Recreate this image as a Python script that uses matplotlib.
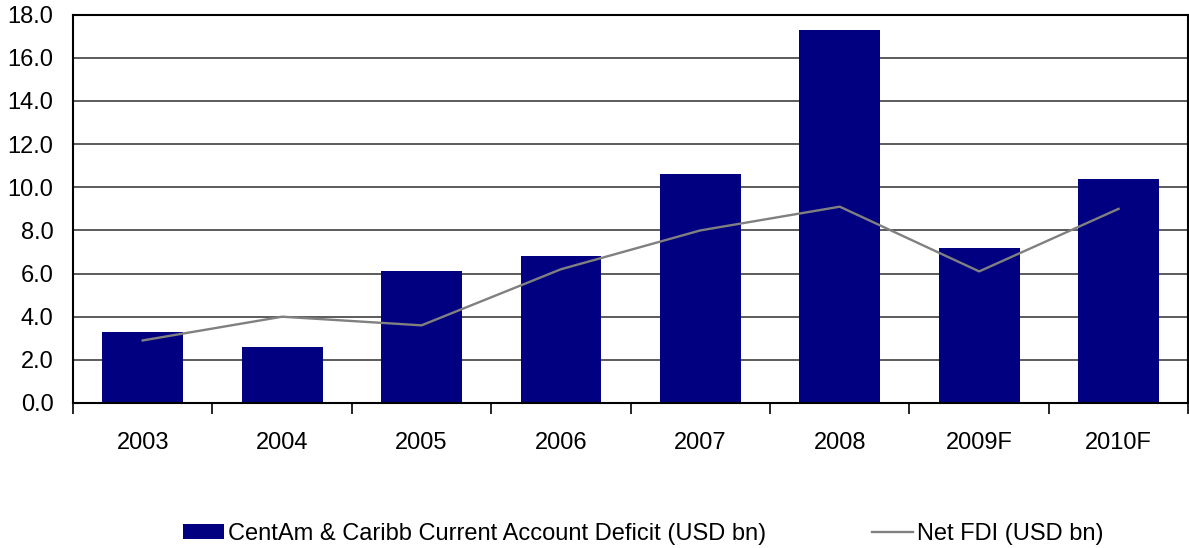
import numpy as np
import matplotlib.pyplot as plt

plt.rcParams['font.family'] = ['Liberation Sans', 'DejaVu Sans']

years = ['2003', '2004', '2005', '2006', '2007', '2008', '2009F', '2010F']
deficit = [3.3, 2.6, 6.1, 6.8, 10.6, 17.3, 7.2, 10.4]
net_fdi = [2.9, 4.0, 3.6, 6.2, 8.0, 9.1, 6.1, 9.0]

fig = plt.figure(figsize=(11.89, 5.48), dpi=100)
ax = fig.add_axes([0.0614, 0.2646, 0.938, 0.7086])

x = np.arange(len(years))
bars = ax.bar(x, deficit, width=0.58, color='#000080', zorder=2)
line, = ax.plot(x, net_fdi, color='#808080', linewidth=1.7, zorder=3)

ax.set_xlim(-0.5, len(years) - 0.5)
ax.set_ylim(0, 18)
yt = np.arange(0, 18.1, 2)
ax.set_yticks(yt)
ax.set_yticklabels([f'{v:.1f}' for v in yt])
ax.set_xticks(x)
ax.set_xticklabels(years)
ax.set_xticks(np.arange(-0.5, len(years)), minor=True)

ax.yaxis.grid(True, color='#404040', linewidth=1.2, zorder=1)
ax.set_axisbelow(True)
ax.tick_params(axis='y', length=0, pad=14, labelsize=17)
ax.tick_params(axis='x', which='major', length=0, pad=21, labelsize=17)
ax.tick_params(axis='x', which='minor', length=8, width=1.2, color='black')
for s in ax.spines.values():
    s.set_color('black')
    s.set_linewidth(1.5)

leg = fig.legend([bars, line],
                 ['CentAm & Caribb Current Account Deficit (USD bn)', 'Net FDI (USD bn)'],
                 loc='center', bbox_to_anchor=(0.541, 0.026), ncol=2, frameon=False,
                 fontsize=17, columnspacing=4.5, handlelength=1.74, handletextpad=0.15,
                 handleheight=0.55, borderpad=0)

fig.savefig('out.png', dpi=100)
